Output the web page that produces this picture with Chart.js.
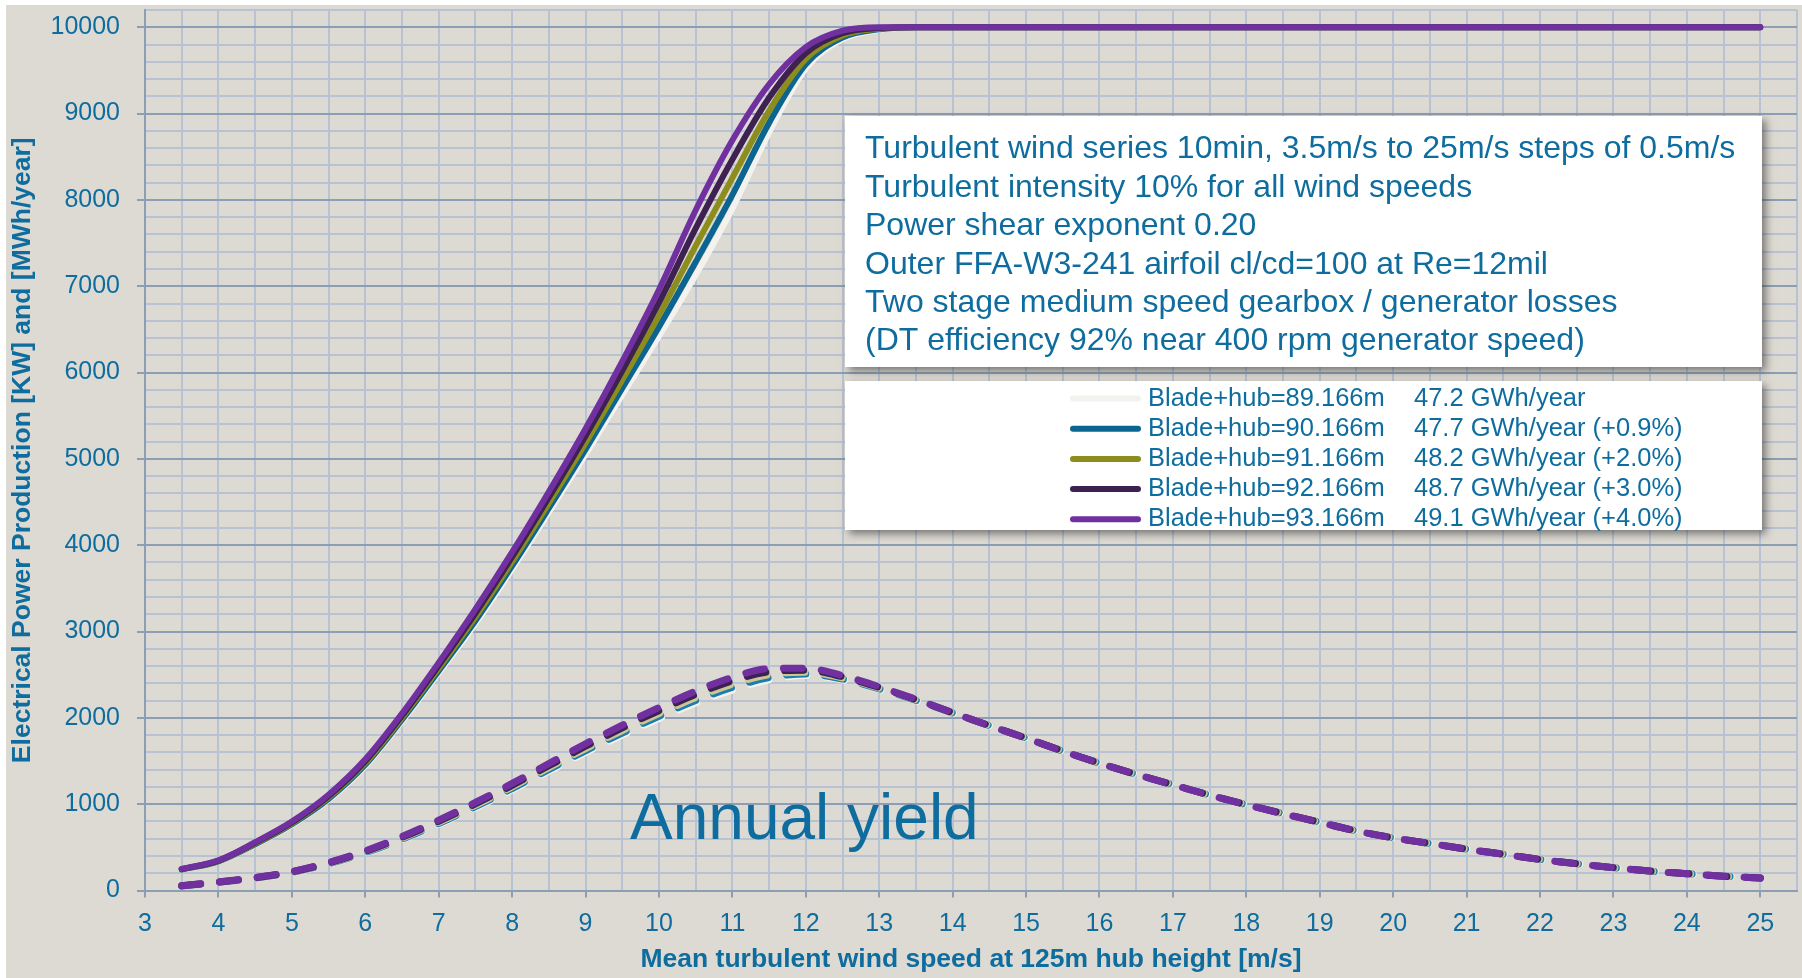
<!DOCTYPE html>
<html>
<head>
<meta charset="utf-8">
<title>Power curve and annual yield</title>
<script src="https://cdn.jsdelivr.net/npm/chart.js@4.4.1/dist/chart.umd.min.js"></script>
<style>
  html, body { margin: 0; padding: 0; background: #ffffff; overflow: hidden; }
  #plot { display: block; }
</style>
</head>
<body>
<canvas id="plot" width="1802" height="978"></canvas>
<script>
// Mean wind speed bins [m/s]
const windSpeed = [3.5, 4, 4.5, 5, 5.5, 6, 6.5, 7, 7.5, 8, 8.5, 9, 9.5, 10, 10.5, 11, 11.5, 12, 12.5, 13,
  13.5, 14, 14.5, 15, 15.5, 16, 16.5, 17, 17.5, 18, 18.5, 19, 19.5, 20, 20.5, 21, 21.5, 22, 22.5, 23, 23.5, 24, 24.5, 25];

// Electrical power [kW] per rotor size
const power89 = [240, 335, 530, 760, 1050, 1440, 1960, 2520, 3090, 3720, 4380, 5050, 5740, 6420, 7130, 7900, 8780, 9520, 9860, 9970,
  10000, 10000, 10000, 10000, 10000, 10000, 10000, 10000, 10000, 10000, 10000, 10000, 10000, 10000, 10000, 10000, 10000, 10000, 10000, 10000, 10000, 10000, 10000, 10000];
const power90 = [242, 338, 536, 768, 1062, 1456, 1978, 2544, 3124, 3760, 4428, 5110, 5818, 6528, 7280, 8058, 8892, 9570, 9880, 9976,
  10000, 10000, 10000, 10000, 10000, 10000, 10000, 10000, 10000, 10000, 10000, 10000, 10000, 10000, 10000, 10000, 10000, 10000, 10000, 10000, 10000, 10000, 10000, 10000];
const power91 = [245, 342, 544, 778, 1077, 1476, 2001, 2574, 3167, 3810, 4488, 5185, 5916, 6663, 7468, 8256, 9032, 9633, 9905, 9984,
  10000, 10000, 10000, 10000, 10000, 10000, 10000, 10000, 10000, 10000, 10000, 10000, 10000, 10000, 10000, 10000, 10000, 10000, 10000, 10000, 10000, 10000, 10000, 10000];
const power92 = [247, 346, 552, 789, 1093, 1498, 2025, 2606, 3212, 3864, 4553, 5266, 6021, 6809, 7670, 8469, 9183, 9700, 9932, 9992,
  10000, 10000, 10000, 10000, 10000, 10000, 10000, 10000, 10000, 10000, 10000, 10000, 10000, 10000, 10000, 10000, 10000, 10000, 10000, 10000, 10000, 10000, 10000, 10000];
const power93 = [250, 350, 560, 800, 1110, 1520, 2050, 2640, 3260, 3920, 4620, 5350, 6130, 6960, 7880, 8690, 9340, 9770, 9960, 10000,
  10000, 10000, 10000, 10000, 10000, 10000, 10000, 10000, 10000, 10000, 10000, 10000, 10000, 10000, 10000, 10000, 10000, 10000, 10000, 10000, 10000, 10000, 10000, 10000];

// Annual yield per wind speed bin [MWh/year]
const yield89 = [52, 94, 141, 207, 305, 432, 588, 766, 959, 1166, 1382, 1598, 1800, 1993, 2172, 2322, 2440, 2490, 2440, 2330, 2200, 2055,
  1910, 1765, 1615, 1475, 1345, 1225, 1105, 995, 890, 790, 690, 610, 545, 480, 420, 360, 310, 265, 225, 195, 165, 145];
const yield90 = [53, 95, 143, 210, 309, 438, 595, 776, 971, 1181, 1400, 1618, 1823, 2018, 2200, 2352, 2466, 2507, 2450, 2336, 2203, 2056,
  1910, 1765, 1615, 1475, 1345, 1225, 1105, 995, 890, 790, 690, 610, 545, 480, 420, 360, 310, 265, 225, 195, 165, 145];
const yield91 = [53, 97, 145, 213, 314, 445, 605, 788, 986, 1199, 1422, 1644, 1852, 2050, 2234, 2389, 2499, 2528, 2463, 2344, 2207, 2057,
  1910, 1765, 1615, 1475, 1345, 1225, 1105, 995, 890, 790, 690, 610, 545, 480, 420, 360, 310, 265, 225, 195, 165, 145];
const yield92 = [54, 98, 147, 216, 319, 452, 615, 801, 1003, 1219, 1445, 1671, 1883, 2084, 2271, 2429, 2534, 2551, 2476, 2352, 2211, 2059,
  1910, 1765, 1615, 1475, 1345, 1225, 1105, 995, 890, 790, 690, 610, 545, 480, 420, 360, 310, 265, 225, 195, 165, 145];
const yield93 = [55, 100, 150, 220, 325, 460, 625, 815, 1020, 1240, 1470, 1700, 1915, 2120, 2310, 2470, 2570, 2575, 2490, 2360, 2215, 2060,
  1910, 1765, 1615, 1475, 1345, 1225, 1105, 995, 890, 790, 690, 610, 545, 480, 420, 360, 310, 265, 225, 195, 165, 145];

const seriesLabels = ['Blade+hub=89.166m', 'Blade+hub=90.166m', 'Blade+hub=91.166m', 'Blade+hub=92.166m', 'Blade+hub=93.166m'];
const energyLabels = ['47.2 GWh/year', '47.7 GWh/year (+0.9%)', '48.2 GWh/year (+2.0%)', '48.7 GWh/year (+3.0%)', '49.1 GWh/year (+4.0%)'];
const noteLines = [
  'Turbulent wind series 10min, 3.5m/s to 25m/s steps of 0.5m/s',
  'Turbulent intensity 10% for all wind speeds',
  'Power shear exponent 0.20',
  'Outer FFA-W3-241 airfoil cl/cd=100 at Re=12mil',
  'Two stage medium speed gearbox / generator losses',
  '(DT efficiency 92% near 400 rpm generator speed)'
];
const yieldCaption = 'Annual yield';
const xTitle = 'Mean turbulent wind speed at 125m hub height [m/s]';
const yTitle = 'Electrical Power Production [KW] and [MWh/year]';

const FONT = '"Liberation Sans", Arial, sans-serif';
const TEXT = '#0E6D9E';
const GRID_MINOR = '#B7C2D3';
const GRID_MAJOR = '#8C9EB4';
const lineColors = ['#F3F2EE', '#0C6491', '#8C8D1C', '#3D2150', '#7030A0'];
const dashColors = ['#F3F2EE', '#1A7DAE', '#CCC694', '#3D2150', '#7030A0'];

const powerSeries = [power89, power90, power91, power92, power93];
const yieldSeries = [yield89, yield90, yield91, yield92, yield93];

function points(values) {
  return values.map((v, i) => ({ x: windSpeed[i], y: v }));
}

// Largest blade drawn last (on top): Chart.js paints index 0 last.
const datasets = [];
for (let i = 4; i >= 0; i--) {
  datasets.push({
    label: seriesLabels[i],
    data: points(powerSeries[i]),
    borderColor: lineColors[i],
    borderWidth: 6,
    borderCapStyle: 'round',
    borderJoinStyle: 'round',
    cubicInterpolationMode: 'monotone',
    pointRadius: 0,
    fill: false
  });
}
for (let i = 4; i >= 0; i--) {
  datasets.push({
    label: seriesLabels[i] + ' yield',
    data: points(yieldSeries[i]),
    borderColor: dashColors[i],
    borderWidth: 7,
    borderDash: [19, 19],
    borderCapStyle: 'round',
    borderJoinStyle: 'round',
    cubicInterpolationMode: 'monotone',
    pointRadius: 0,
    fill: false
  });
}

// Page background with a thin white margin on the top and left
const backdrop = {
  id: 'backdrop',
  beforeDraw(chart) {
    const { ctx, width, height } = chart;
    ctx.save();
    ctx.fillStyle = '#ffffff';
    ctx.fillRect(0, 0, width, height);
    ctx.fillStyle = '#DDDAD3';
    ctx.fillRect(6, 5, width - 6, height - 5);
    ctx.restore();
  }
};

function shadowBox(ctx, x, y, w, h) {
  ctx.save();
  ctx.shadowColor = 'rgba(40,40,40,0.55)';
  ctx.shadowBlur = 8;
  ctx.shadowOffsetX = 4;
  ctx.shadowOffsetY = 4;
  ctx.fillStyle = '#ffffff';
  ctx.fillRect(x, y, w, h);
  ctx.restore();
}

// Notes box, legend box and caption
const overlay = {
  id: 'overlay',
  afterDraw(chart) {
    const { ctx } = chart;
    ctx.save();

    // Notes
    shadowBox(ctx, 845, 116, 917, 251);
    ctx.fillStyle = TEXT;
    ctx.font = '32px ' + FONT;
    ctx.textAlign = 'left';
    ctx.textBaseline = 'middle';
    noteLines.forEach((t, i) => ctx.fillText(t, 865, 149.5 + i * 38.4));

    // Legend
    shadowBox(ctx, 845, 381, 917, 149);
    ctx.font = '25.5px ' + FONT;
    for (let i = 0; i < seriesLabels.length; i++) {
      const y = 398.5 + i * 30.2;
      ctx.strokeStyle = lineColors[i];
      ctx.lineWidth = 6;
      ctx.lineCap = 'round';
      ctx.beginPath();
      ctx.moveTo(1073, y);
      ctx.lineTo(1138, y);
      ctx.stroke();
      ctx.fillStyle = TEXT;
      ctx.fillText(seriesLabels[i], 1148, y);
      ctx.fillText(energyLabels[i], 1414, y);
    }

    // Caption of the dashed curves
    ctx.font = '64px ' + FONT;
    ctx.textBaseline = 'alphabetic';
    ctx.fillText(yieldCaption, 630, 839);
    ctx.restore();
  }
};

new Chart(document.getElementById('plot'), {
  type: 'line',
  data: { datasets },
  plugins: [backdrop, overlay],
  options: {
    responsive: false,
    animation: false,
    devicePixelRatio: 1,
    layout: { padding: { left: 0, top: 10, right: 5, bottom: 0 } },
    plugins: { legend: { display: false }, tooltip: { enabled: false } },
    elements: { point: { radius: 0 } },
    scales: {
      x: {
        type: 'linear',
        min: 3,
        max: 25.5,
        ticks: {
          stepSize: 0.5,
          autoSkip: false,
          maxRotation: 0,
          color: TEXT,
          font: { family: FONT, size: 25 },
          padding: 12,
          callback: v => Number.isInteger(v) ? String(v) : ''
        },
        grid: {
          color: GRID_MINOR,
          lineWidth: 2,
          tickLength: 7,
          tickWidth: 2,
          tickColor: c => Number.isInteger(c.tick.value) ? GRID_MAJOR : 'rgba(0,0,0,0)'
        },
        border: { color: GRID_MAJOR, width: 2 },
        title: {
          display: true,
          text: xTitle,
          color: TEXT,
          font: { family: FONT, size: 26.5, weight: 'bold' },
          padding: { top: 0, bottom: 2 }
        },
        afterFit: s => {
          s.height = 87.5;
          s.paddingLeft = 0;
          s.paddingRight = 0;
        }
      },
      y: {
        type: 'linear',
        min: 0,
        max: 10200,
        ticks: {
          stepSize: 200,
          autoSkip: false,
          color: TEXT,
          font: { family: FONT, size: 25 },
          padding: 17,
          callback: v => v % 1000 === 0 ? String(v) : ''
        },
        grid: {
          color: c => (c.tick.value % 1000 === 0 ? GRID_MAJOR : GRID_MINOR),
          lineWidth: 2,
          tickLength: 8,
          tickWidth: 2,
          tickColor: c => (c.tick.value % 1000 === 0 ? GRID_MAJOR : 'rgba(0,0,0,0)')
        },
        border: { color: GRID_MAJOR, width: 2 },
        title: {
          display: true,
          text: yTitle,
          color: TEXT,
          font: { family: FONT, size: 26.5, weight: 'bold' },
          padding: { top: 7, bottom: 0 }
        },
        afterFit: s => {
          s.width = 145;
          s.paddingTop = 0;
          s.paddingBottom = 0;
        }
      }
    }
  }
});
</script>
</body>
</html>
